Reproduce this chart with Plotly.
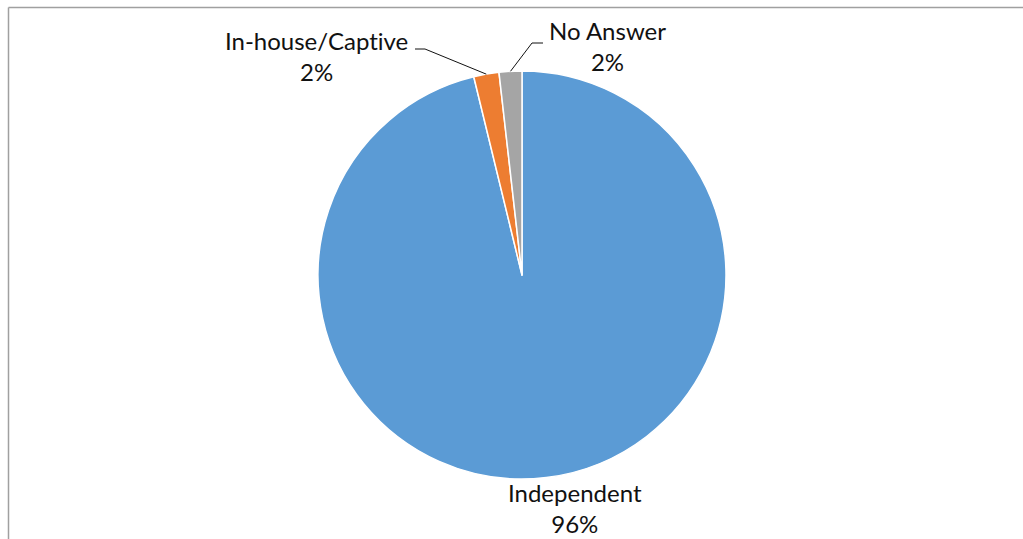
import math
import plotly.graph_objects as go

# Share of respondents by type
categories = ["Independent", "In-house/Captive", "No Answer"]
values = [96.2, 2.0, 1.8]
colors = ["#5B9BD5", "#ED7D31", "#A5A5A5"]

W, H = 1023, 539
CX, CY, R = 522, 275, 204  # pie centre / radius in pixels


def px(x):
    return x / W


def py(y):
    return 1 - y / H


fig = go.Figure(
    go.Pie(
        labels=categories,
        values=values,
        sort=False,
        direction="clockwise",
        rotation=0,
        marker=dict(colors=colors, line=dict(color="white", width=1.5)),
        textinfo="none",
        hoverinfo="label+percent",
        domain=dict(x=[px(CX - R), px(CX + R)], y=[py(CY + R), py(CY - R)]),
        showlegend=False,
    )
)

total = sum(values)
pcts = [v / total * 100 for v in values]

# mid-angle of every slice (clockwise from 12 o'clock)
mids = []
acc = 0.0
for v in values:
    mids.append((acc + v / 2) / total * 2 * math.pi)
    acc += v


def edge_point(theta):
    return CX + R * math.sin(theta), CY - R * math.cos(theta)


font = dict(family="Lato, Open Sans, sans-serif", size=24, color="#111111")

# label placement (text centre, leader elbow) per category
label_pos = {
    "Independent": dict(x=575, y=508, elbow=None),
    "In-house/Captive": dict(x=316, y=56, elbow=((425, 49), (415, 49))),
    "No Answer": dict(x=607, y=46, elbow=((532, 43), (543, 43))),
}

shapes = []
annotations = []
for cat, pct, th in zip(categories, pcts, mids):
    lp = label_pos[cat]
    # zero-width non-joiner keeps "ti" from turning into a ligature
    shown = cat.replace("ti", "t\u200ci")
    annotations.append(
        dict(
            x=px(lp["x"]), y=py(lp["y"]), xref="paper", yref="paper",
            text=f"{shown}<br>{pct:.0f}%", showarrow=False, font=font,
            xanchor="center", yanchor="middle", align="center",
        )
    )
    if lp["elbow"]:
        ex, ey = edge_point(th)
        (bx, by), (tx, ty) = lp["elbow"]
        path = f"M {px(ex)} {py(ey)} L {px(bx)} {py(by)} L {px(tx)} {py(ty)}"
        shapes.append(dict(type="path", xref="paper", yref="paper", path=path,
                           line=dict(color="#111111", width=1)))

# chart frame
shapes.append(dict(type="line", xref="paper", yref="paper", x0=px(8.5), x1=1.01,
                   y0=py(7.5), y1=py(7.5), line=dict(color="#a0a0a0", width=1.5)))
shapes.append(dict(type="line", xref="paper", yref="paper", x0=px(8.5), x1=px(8.5),
                   y0=py(7.5), y1=-0.01, line=dict(color="#a0a0a0", width=1.5)))

fig.update_layout(
    width=W, height=H,
    margin=dict(l=0, r=0, t=0, b=0),
    paper_bgcolor="white", plot_bgcolor="white",
    shapes=shapes, annotations=annotations,
)

fig.write_html("out.html")
